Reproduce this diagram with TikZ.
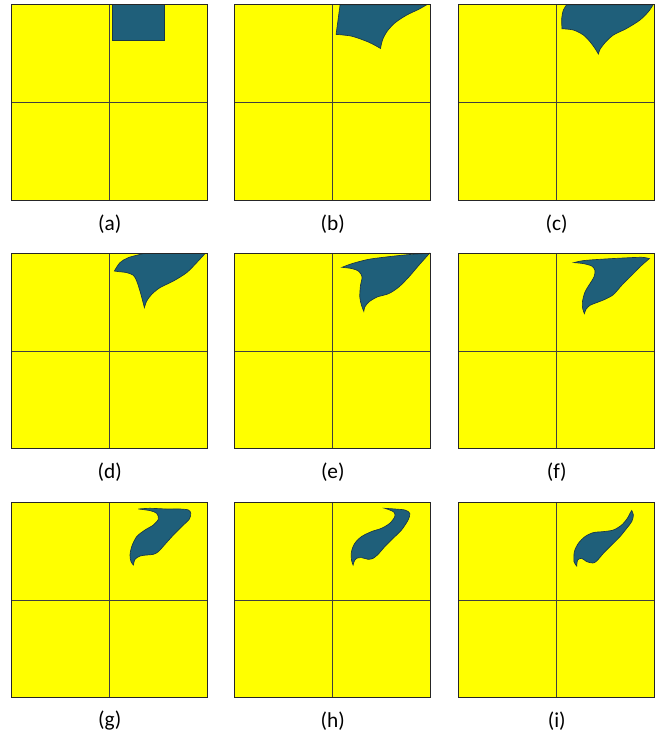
\documentclass[tikz,border=0pt]{standalone}
\usepackage{fontspec}
\setmainfont{Carlito}
\definecolor{pyellow}{RGB}{255,255,0}
\definecolor{pblue}{RGB}{31,95,122}
\definecolor{poutline}{RGB}{25,55,70}
\begin{document}
\begin{tikzpicture}[x=0.75pt,y=-0.75pt,
  bg/.style={fill=pyellow},
  frame/.style={draw=black!85,line width=0.9pt},
  cross/.style={draw=black!75,line width=0.6pt},
  blob/.style={fill=pblue,draw=poutline,line width=0.5pt},
  lbl/.style={font=\fontsize{16}{19}\selectfont,inner sep=0pt}]
\useasboundingbox (0,0) rectangle (665,733);
\fill[white] (0,0) rectangle (665,733);
\newcommand{\panelbg}{\fill[bg] (0,0) rectangle (196,195.5);}
\newcommand{\panelfg}{\draw[cross] (98,0) -- (98,195.5); \draw[cross] (0,97.7) -- (196,97.7); \draw[frame] (0,0) rectangle (196,195.5);}
% (a)
\begin{scope}[shift={(11.7,4.7)}]
\panelbg
\filldraw[blob] (100.3,0) rectangle (152.6,36);
\panelfg
\end{scope}
% (b)
\begin{scope}[shift={(234.8,4.7)}]
\panelbg
\filldraw[blob] (105.3,0) -- (101.3,29.7) -- plot[smooth] coordinates {(101.3,29.7)(117,31.5)(134,37.5)(145.7,43.7)} -- plot[smooth] coordinates {(145.7,43.7)(147.7,35.3)(152,27)(160.3,18)(172,10.3)(183.7,4.7)(192,0)} -- cycle;
\panelfg
\end{scope}
% (c)
\begin{scope}[shift={(458.7,4.7)}]
\panelbg
\filldraw[blob] plot[smooth] coordinates {(108,0)(104.7,5.3)(103,13.7)(103.3,24)} -- plot[smooth] coordinates {(103.3,24)(114.7,25.3)(124.7,30.3)(131.3,37)(136.3,43.7)(139.7,49.3)} -- plot[smooth] coordinates {(139.7,49.3)(141.3,44.7)(146.3,38)(154.7,30.3)(168,23.7)(181.3,15.3)(189.7,7)(194,0.7)} -- (194,0) -- cycle;
\panelfg
\end{scope}
% (d)
\begin{scope}[shift={(11.7,253.3)}]
\panelbg
\filldraw[blob] plot[smooth] coordinates {(102.7,17.7)(108.3,9.3)(116.7,4.3)(131.7,0.3)} -- (193.3,0.3) -- plot[smooth] coordinates {(193.3,0.3)(185,9.3)(175,19.3)(161.7,27.7)(148.3,34.3)(140,41)(135,47.7)(132.7,54.3)} -- plot[smooth] coordinates {(132.7,54.3)(131,47.7)(128.3,37.7)(125,27.7)(121.7,22)(115,19.3)(106.7,18.3)(102.7,17.7)} -- cycle;
\panelfg
\end{scope}
% (e)
\begin{scope}[shift={(234.8,253.3)}]
\panelbg
\filldraw[blob] plot[smooth] coordinates {(107.3,14)(117.3,10.3)(134,6)(157.3,3)(177.3,1)(194.7,0)} -- plot[smooth] coordinates {(194.7,0)(184,12)(174,23.7)(164,33.7)(154,40.3)(142.3,43.7)(134,48.7)(130,53.7)(129,58)} -- plot[smooth] coordinates {(129,58)(126.7,52)(125,43.7)(125.7,32)(127.3,23.7)(124,18)(117.3,15.3)(107.3,14)} -- cycle;
\panelfg
\end{scope}
% (f)
\begin{scope}[shift={(458.7,253.3)}]
\panelbg
\filldraw[blob] plot[smooth] coordinates {(115.3,9.3)(124.7,7.3)(141.3,6)(164.7,4.7)(183,4)(190.7,5.3)} -- plot[smooth] coordinates {(190.7,5.3)(183,12)(173,22)(163,32)(154.7,41.3)(146.3,46)(138,49.3)(131.3,52)(127.3,56)(125.7,60.3)} -- plot[smooth] coordinates {(125.7,60.3)(124,55.3)(123.7,48.7)(126.3,38.7)(131.3,30.3)(135.3,23.7)(136.3,17)(133,12.7)(124.7,10.3)(115.3,9.3)} -- cycle;
\panelfg
\end{scope}
% (g)
\begin{scope}[shift={(11.7,502.3)}]
\panelbg
\filldraw[blob] plot[smooth] coordinates {(126.7,6.7)(138.3,6)(155,6.7)(168.3,6.7)(176.7,7.7)(179,11)(177.7,16.7)(170,24.3)(161.7,32.7)(153.3,42)(146.7,49.3)(141.7,52)(135,52.7)(128.3,53.7)(123.3,57)(121.7,62.7)} -- plot[smooth] coordinates {(121.7,62.7)(119.3,59.3)(118.3,52.7)(120,44.3)(125,34.3)(133.3,27.7)(141.7,22.7)(146.7,16.7)(145,11)(138.3,8.3)(126.7,6.7)} -- cycle;
\panelfg
\end{scope}
% (h)
\begin{scope}[shift={(234.8,502.3)}]
\panelbg
\filldraw[blob] plot[smooth] coordinates {(150,6)(160,6.7)(170,7.7)(175,11)(173.3,17.7)(166.7,27.7)(158.3,36)(150,44.3)(143.3,52)(138.3,56)(133.3,57)(126.7,55.3)(121.7,56)(119.3,59.3)(118.3,62.7)} -- plot[smooth] coordinates {(118.3,62.7)(116.7,57.7)(116.7,49.3)(120,41)(126.7,34.3)(136.7,29.3)(146.7,26)(155,21)(160,14.3)(159.3,10)(155,7.7)(150,6)} -- cycle;
\panelfg
\end{scope}
% (i)
\begin{scope}[shift={(458.7,502.3)}]
\panelbg
\filldraw[blob] plot[smooth] coordinates {(173,8.3)(174.7,12.7)(173,19.3)(168,26)(161.3,34.3)(153,42.7)(144.7,51)(138,58.7)(134,60.7)(128,59.3)(123,56)(119,57.7)(118,63.7)} -- plot[smooth] coordinates {(118,63.7)(115.3,59.3)(115.7,49.3)(119.7,41)(126.3,34.3)(134.7,30.3)(144.7,29.3)(154.7,27.7)(163,22.7)(168.7,16)(171.3,11)(173,8.3)} -- cycle;
\panelfg
\end{scope}
% labels
\node[lbl] (la) at (109.7,224) {(a)};
\node[lbl] (lb) at (332.8,224) {(b)};
\node[lbl] (lc) at (556.7,224) {(c)};
\node[lbl] (ld) at (109.7,472) {(d)};
\node[lbl] (le) at (332.8,472) {(e)};
\node[lbl] (lf) at (556.7,472) {(f)};
\node[lbl] (lg) at (109.7,720.7) {(g)};
\node[lbl] (lh) at (332.8,720.7) {(h)};
\node[lbl] (li) at (556.7,720.7) {(i)};
\end{tikzpicture}
\end{document}
